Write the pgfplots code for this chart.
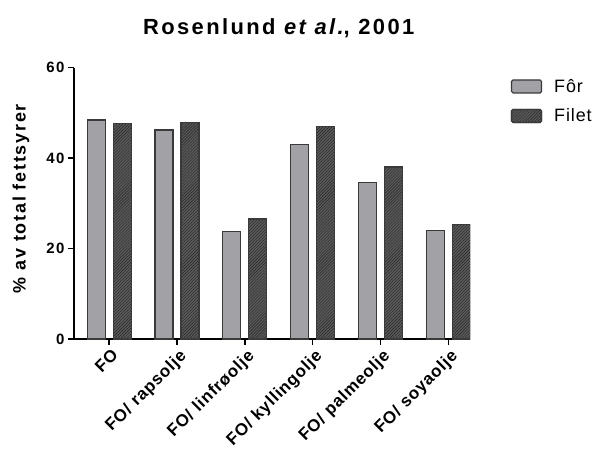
\documentclass[border=0pt]{standalone}
\usepackage{pgfplots}
\pgfplotsset{compat=1.18}
\usetikzlibrary{patterns}
\usepackage{fontspec}
\setmainfont{Liberation Sans}
\newfontfamily\lsp[LetterSpace=10]{Liberation Sans}
\newfontfamily\lspx[LetterSpace=5]{Liberation Sans}
\newfontfamily\lspt[LetterSpace=11]{Liberation Sans}
\newfontfamily\lspl[LetterSpace=5]{Liberation Sans}
\definecolor{forgray}{HTML}{A2A2A6}
\definecolor{filetgray}{HTML}{5A5A5A}
\definecolor{edgegray}{HTML}{3A3A3A}
\pgfplotsset{roundlegend/.style={legend image code/.code={\draw[##1, rounded corners=1.5bp] (0bp,-6.5bp) rectangle (30bp,6.5bp);}}}
\begin{document}
\begin{tikzpicture}
\useasboundingbox (-74bp,-114bp) rectangle (524bp,339bp);
\begin{axis}[
  scale only axis, width=396bp, height=271.5bp,
  at={(0,0)}, anchor=south west,
  ymin=0, ymax=60, ytick={0,20,40,60},
  xmin=-0.52, xmax=5.32,
  xtick={0,1,2,3,4,5},
  xticklabels={FO, FO/ rapsolje, FO/ linfrøolje, FO/ kyllingolje, FO/ palmeolje, FO/ soyaolje},
  axis x line*=bottom, axis y line*=left,
  axis line style={line width=1.6bp, black},
  tick style={line width=1.6bp, black},
  tick align=outside, major tick length=6bp,
  x tick label style={rotate=45, anchor=north east, font=\lspx\bfseries\fontsize{17}{17}\selectfont, inner sep=1bp, yshift=-2bp},
  y tick label style={font=\lsp\bfseries\fontsize{15}{15}\selectfont},
  /pgf/number format/assume math mode=true,
  ylabel={\% av total fettsyrer},
  ylabel style={font=\lsp\bfseries\fontsize{18}{18}\selectfont, at={(axis description cs:-0.134,0.517)}, anchor=center, rotate=0},
  title={\textbf{Rosenlund \textit{et al.}, 2001}},
  title style={at={(axis description cs:0.52,1)}, anchor=base, yshift=27bp, font=\lspt\fontsize{22}{22}\selectfont},
  ybar=8bp, bar width=18bp,
  legend style={at={(axis description cs:1.103,0.965)}, anchor=north west, draw=none, fill=none,
    font=\lspl\fontsize{18}{18}\selectfont, row sep=11bp, inner sep=0pt},
  legend cell align=left,
]
\addplot[fill=forgray, draw=edgegray, line width=1.2bp, roundlegend]
  coordinates {(0,48.4) (1,46.2) (2,23.7) (3,43.0) (4,34.6) (5,24.0)};
\addplot[fill=filetgray, draw=edgegray, line width=1.2bp,
  postaction={pattern=north east lines, pattern color=black!85}, roundlegend]
  coordinates {(0,47.6) (1,47.9) (2,26.5) (3,46.9) (4,38.0) (5,25.3)};
\legend{\hspace{10bp}Fôr, \hspace{10bp}Filet}
\end{axis}
\end{tikzpicture}
\end{document}
